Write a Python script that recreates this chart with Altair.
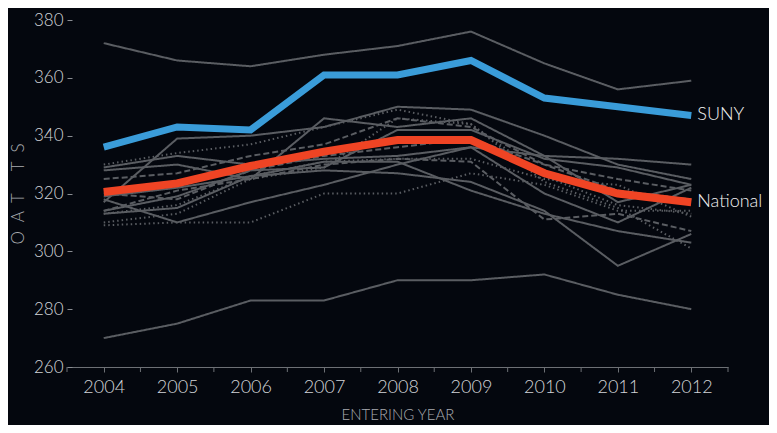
import altair as alt
import pandas as pd

years = [2004, 2005, 2006, 2007, 2008, 2009, 2010, 2011, 2012]

suny = [336, 343, 342, 361, 361, 366, 353, 350, 347]
national = [320.5, 323.5, 329.5, 334.5, 338.5, 338.5, 327, 320, 317]

gray_names = ["top", "bottom", "A", "B", "C", "D", "E", "F", "G", "H", "I", "J", "K", "L", "M", "N"]
gray_styles = ["solid", "solid", "solid", "dotted", "solid", "dashed", "solid", "solid",
               "solid", "dashed", "solid", "dotted", "dotted", "solid", "dotted", "dashed"]
gray_values = [
    [372, 366, 364, 368, 371, 376, 365, 356, 359],
    [270, 275, 283, 283, 290, 290, 292, 285, 280],
    [329, 333, 330, 332, 333, 336, 333, 332, 330],
    [330, 334, 337, 343, 349, 344, 326, 316, 313],
    [317, 339, 340, 343, 350, 349, 340, 330, 325],
    [325, 327, 333, 337, 346, 343, 330, 325, 321],
    [328, 330, 325, 346, 343, 346, 333, 317, 323],
    [318, 310, 317, 323, 330, 336, 320, 310, 322],
    [313, 315, 326, 328, 327, 324, 314, 295, 306],
    [314, 321, 325, 330, 332, 331, 311, 313, 307],
    [314, 319, 328, 329, 342, 342, 332, 329, 323],
    [310, 313, 325, 329, 346, 344, 324, 315, 301],
    [309, 310, 310, 320, 320, 327, 323, 314, 314],
    [319, 322, 326, 331, 331, 321, 313, 307, 303],
    [313, 316, 326, 331, 332, 332, 325, 323, 312],
    [320, 318, 328, 333, 336, 339, 330, 321, 318],
]

half_ticks = [2003.5 + i for i in range(10)]
y_tick_values = [260, 280, 300, 320, 340, 360, 380]

rows = []
for name, style, vals in zip(gray_names, gray_styles, gray_values):
    for yr, v in zip(years, vals):
        rows.append({"name": name, "style": style, "year": yr, "value": v, "group": "gray"})
for yr, v in zip(years, suny):
    rows.append({"name": "SUNY", "style": "solid", "year": yr, "value": v, "group": "SUNY"})
for yr, v in zip(years, national):
    rows.append({"name": "National", "style": "solid", "year": yr, "value": v, "group": "National"})
df = pd.DataFrame(rows)
minor_df = pd.DataFrame({"year": half_ticks})

FONT = "Lato"
LABEL_C = "#d2d4d8"
TITLE_C = "#a9abb0"
AXIS_C = "#6d7075"
NB = "\u00a0"
XSCALE = alt.Scale(domain=[2003.5, 2012.5], nice=False, zero=False)
PLOT_H = 347

x_enc = alt.X(
    "year:Q",
    scale=XSCALE,
    axis=alt.Axis(
        values=years,
        format="d",
        labelOverlap=False,
        title="ENTERING YEAR",
        grid=False,
        domainColor=AXIS_C,
        tickColor=AXIS_C,
        tickSize=5,
        labelPadding=6,
        titlePadding=11,
        labelFontSize=18,
    ),
)
y_enc = alt.Y(
    "value:Q",
    scale=alt.Scale(domain=[260, 380], nice=False, zero=False),
    axis=alt.Axis(
        values=y_tick_values,
        title=f"O{NB}{NB}A{NB}{NB}T{NB}{NB}{NB}{NB}{NB}T{NB}{NB}S",
        grid=False,
        domain=False,
        tickColor="#8a8d92",
        tickSize=5,
        offset=-5,
        labelPadding=4,
        titlePadding=6,
        labelFontSize=17,
        titleFontSize=17,
    ),
)

base = alt.Chart(df)

gray = base.transform_filter(alt.datum.group == "gray").mark_line(
    color="#5a5d62", strokeWidth=2
).encode(
    x=x_enc,
    y=y_enc,
    detail="name:N",
    strokeDash=alt.StrokeDash(
        "style:N",
        scale=alt.Scale(domain=["solid", "dashed", "dotted"], range=[[1, 0], [6, 3], [1.5, 3]]),
        legend=None,
    ),
)

minor = alt.Chart(minor_df).mark_rule(color=AXIS_C, strokeWidth=1).encode(
    x="year:Q",
    y=alt.value(PLOT_H),
    y2=alt.value(PLOT_H + 5),
)

nat = base.transform_filter(alt.datum.group == "National").mark_line(
    color="#ef4424", strokeWidth=8, strokeJoin="miter"
).encode(x="year:Q", y="value:Q")

sun = base.transform_filter(alt.datum.group == "SUNY").mark_line(
    color="#3a9cd9", strokeWidth=7, strokeJoin="miter"
).encode(x="year:Q", y="value:Q")

labels = base.transform_filter(
    (alt.datum.year == 2012) & (alt.datum.group != "gray")
).mark_text(
    align="left", baseline="middle", dx=6, font=FONT, fontSize=18, fontWeight=300, color="#f2f2f2"
).encode(x="year:Q", y="value:Q", text="name:N")

chart = alt.layer(gray, minor, nat, sun, labels).properties(
    width=661,
    height=PLOT_H,
    padding={"left": 59, "top": 12, "right": 41, "bottom": 58},
    autosize="none",
    background="#04070e",
).configure_view(strokeWidth=0).configure_axis(
    labelFont=FONT,
    titleFont=FONT,
    labelColor=LABEL_C,
    titleColor=TITLE_C,
    titleFontSize=15,
    titleFontWeight=300,
    labelFontWeight=300,
)

chart.save("out.html", embed_options={"renderer": "svg", "actions": False})
